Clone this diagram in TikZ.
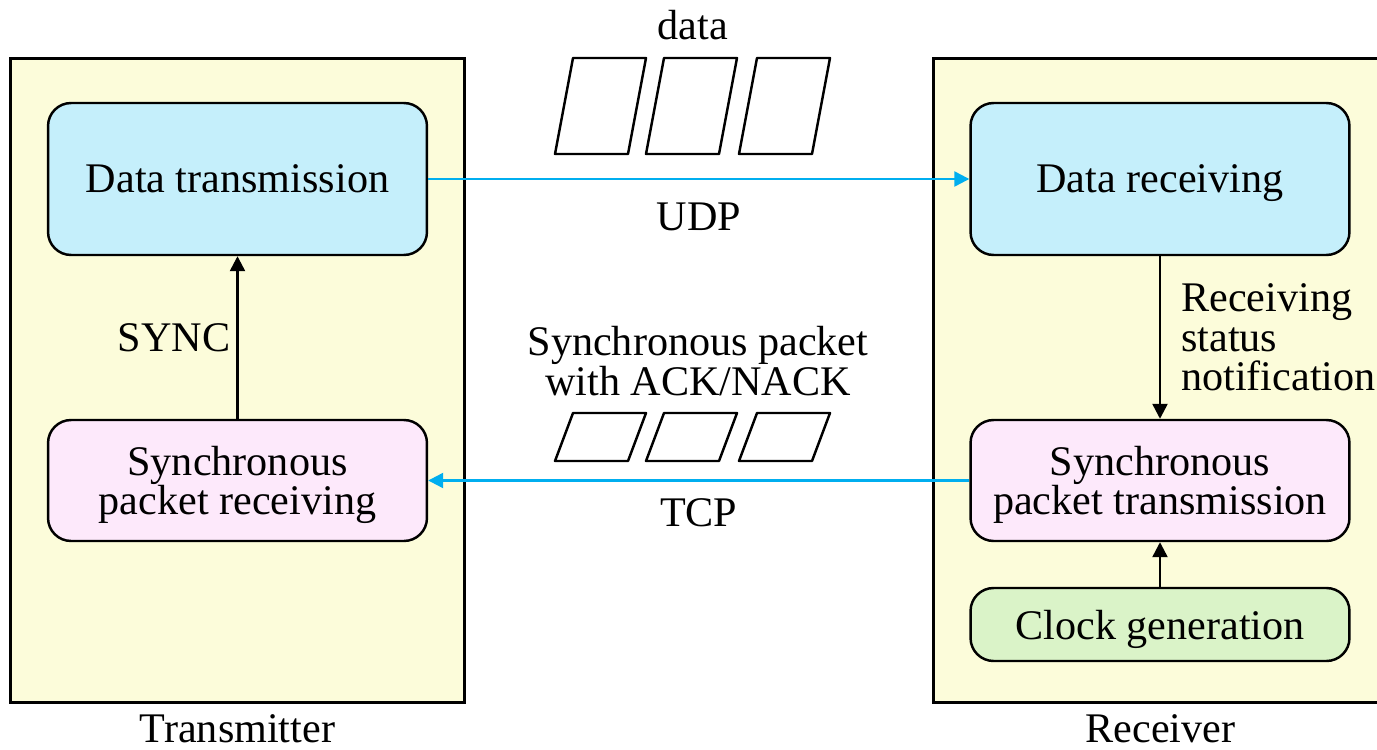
\documentclass[tikz,border=0pt]{standalone}
\usepackage{fontspec}
\setmainfont{Liberation Serif}
\usetikzlibrary{arrows.meta,positioning}
\definecolor{sideyellow}{RGB}{252,252,218}
\definecolor{blockcyan}{RGB}{197,239,251}
\definecolor{blockpink}{RGB}{253,233,251}
\definecolor{blockgreen}{RGB}{218,243,200}
\definecolor{linkcyan}{RGB}{0,174,239}
\newcommand{\diagfont}{\fontsize{24}{22.5}\selectfont}

\begin{document}
\begin{tikzpicture}[x=0.02cm,y=-0.02cm,
    every node/.style={font=\diagfont},
    side/.style={draw,line width=1.7pt,fill=sideyellow,minimum width=9.1cm,minimum height=12.9cm,inner sep=0pt},
    block/.style={draw,line width=1.4pt,rounded corners=0.46cm,minimum width=7.58cm,align=center,inner sep=0pt,text depth=0pt},
    tag/.style={inner sep=0pt,align=center},
    link/.style={line width=1.4pt,-{Triangle[length=0.3cm,width=0.3cm]}},
    udp/.style={link,line width=1.3pt,draw=linkcyan},
    packet/.style={line width=1.4pt,line join=round}]
    \useasboundingbox (0,0) rectangle (1377,750);
    % two sides
    \node[side] (tx) at (237.5,380.5) {};
    \node[side] (rx) at (1160.5,380.5) {};
    \node[tag,below=0.2cm of tx] (txname) {Transmitter};
    \node[tag,below=0.2cm of rx] (rxname) {Receiver};
    % blocks
    \node[block,fill=blockcyan,minimum height=3.04cm] (dtx) at (237.5,179) {Data transmission};
    \node[block,fill=blockcyan,minimum height=3.04cm] (drx) at (1160,179) {Data receiving};
    \node[block,fill=blockpink,minimum height=2.42cm] (srx) at (237.5,480.5) {Synchronous\\packet receiving};
    \node[block,fill=blockpink,minimum height=2.42cm] (stx) at (1160,480.5) {Synchronous\\packet transmission};
    \node[block,fill=blockgreen,minimum height=1.46cm] (clk) at (1160,624.5) {Clock generation};
    % packets
    \foreach \dx in {0,91,184} {
      \draw[packet] (555+\dx,154) -- (573+\dx,58) -- (646+\dx,58) -- (628+\dx,154) -- cycle;
      \draw[packet] (555+\dx,461) -- (573+\dx,413) -- (646+\dx,413) -- (628+\dx,461) -- cycle;
    }
    \node[tag] (datatag) at (693,25) {data};
    \node[tag] (synctag) at (698,361) {Synchronous packet\\with ACK/NACK};
    % links
    \draw[udp] (dtx.east) -- (drx.west) node[tag,midway,below=0.46cm] (udptag) {UDP};
    \draw[udp] (stx.west) -- (srx.east) node[tag,midway,below=0.34cm] (tcptag) {TCP};
    \draw[link] (srx.north) -- (dtx.south) node[tag,midway,left=0.12cm] (synclabel) {SYNC};
    \draw[link] (drx.south) -- (stx.north) node[tag,midway,right=0.4cm,align=left] (statustag) {Receiving\\status\\notification};
    \draw[link] (clk.north) -- (stx.south);
\end{tikzpicture}
\end{document}
